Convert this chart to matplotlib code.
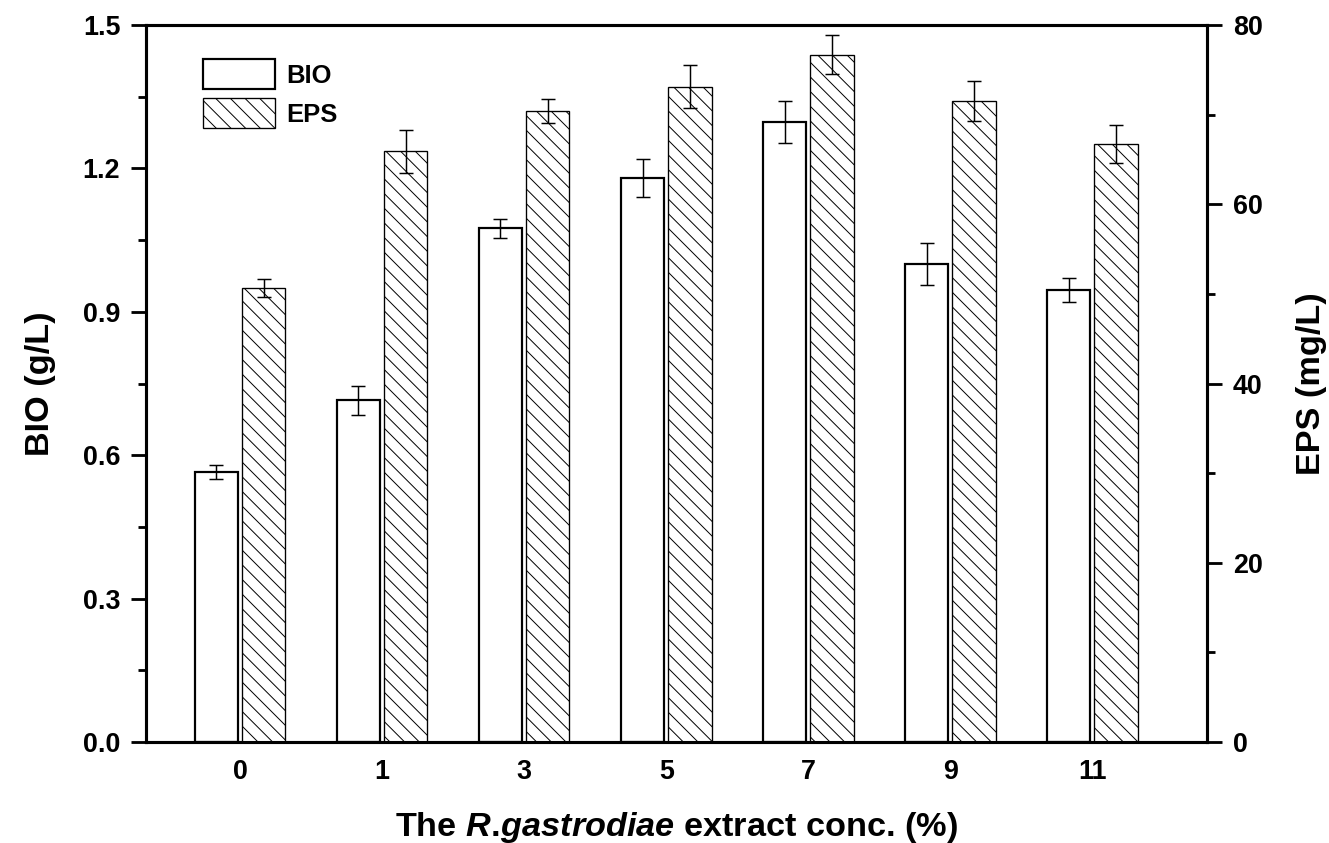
import matplotlib
matplotlib.use('Agg')
import matplotlib.pyplot as plt
from matplotlib.ticker import MultipleLocator, FormatStrFormatter
import numpy as np

# data
conc = ['0', '1', '3', '5', '7', '9', '11']
bio = [0.565, 0.715, 1.075, 1.18, 1.297, 1.0, 0.945]
bio_err = [0.015, 0.03, 0.02, 0.04, 0.044, 0.043, 0.025]
eps = [50.7, 65.9, 70.4, 73.1, 76.7, 71.5, 66.7]
eps_err = [1.0, 2.4, 1.3, 2.4, 2.2, 2.2, 2.1]

plt.rcParams['font.family'] = ['Liberation Sans', 'DejaVu Sans']
plt.rcParams['font.weight'] = 'bold'
plt.rcParams['mathtext.fontset'] = 'custom'
plt.rcParams['mathtext.it'] = 'Liberation Sans:italic:bold'
plt.rcParams['mathtext.rm'] = 'Liberation Sans:bold'
plt.rcParams['hatch.linewidth'] = 0.8

dpi = 88  # hatch spacing scales with dpi
W, H = 1329, 843
fig = plt.figure(figsize=(W / dpi, H / dpi), dpi=dpi)
ax = fig.add_axes([146 / W, 101 / H, 1061 / W, 717 / H])
ax2 = ax.twinx()

x = np.arange(len(conc))
w = 0.305
off = 0.1665
ekw = dict(elinewidth=1.2, capthick=1.2, ecolor='black')

b1 = ax.bar(x - off, bio, w, yerr=bio_err, color='white', edgecolor='black',
            linewidth=1.8, capsize=5.5, error_kw=ekw, label='BIO')
b2 = ax2.bar(x + off, eps, w, yerr=eps_err, color='white', edgecolor='black',
             linewidth=1.1, hatch='\\\\', capsize=5.5, error_kw=ekw, label='EPS')

ax.set_xlim(-0.662, 6.807)
ax.set_ylim(0, 1.5)
ax2.set_ylim(0, 80)

ax.yaxis.set_major_locator(MultipleLocator(0.3))
ax.yaxis.set_minor_locator(MultipleLocator(0.15))
ax.yaxis.set_major_formatter(FormatStrFormatter('%.1f'))
ax2.yaxis.set_major_locator(MultipleLocator(20))
ax2.yaxis.set_minor_locator(MultipleLocator(10))

ax.set_xticks(x, conc)
ax.tick_params(axis='x', length=0, pad=14, labelsize=22)
for a in (ax, ax2):
    a.tick_params(axis='y', which='major', direction='out', length=12,
                  width=2.3, labelsize=22, pad=9)
    a.tick_params(axis='y', which='minor', direction='out', length=6.5,
                  width=2.3)
    for s in a.spines.values():
        s.set_linewidth(2.5)

# \! cancels the space mathtext puts after the dot
ax.set_xlabel('The $\\mathit{R.\\!gastrodiae}$ extract conc. (%)', fontsize=28,
              fontweight='bold', labelpad=20)
ax.set_ylabel('BIO (g/L)', fontsize=28, fontweight='bold', labelpad=22)
ax2.set_ylabel('EPS (mg/L)', fontsize=28, fontweight='bold', labelpad=27)

ax2.legend([b1, b2], ['BIO', 'EPS'], loc='upper left',
           bbox_to_anchor=(0.0537, 0.9526), frameon=False, fontsize=21,
           handlelength=2.8, handleheight=1.43, labelspacing=0.35,
           handletextpad=0.45, borderpad=0, borderaxespad=0)

fig.savefig('out.png', dpi=dpi)
